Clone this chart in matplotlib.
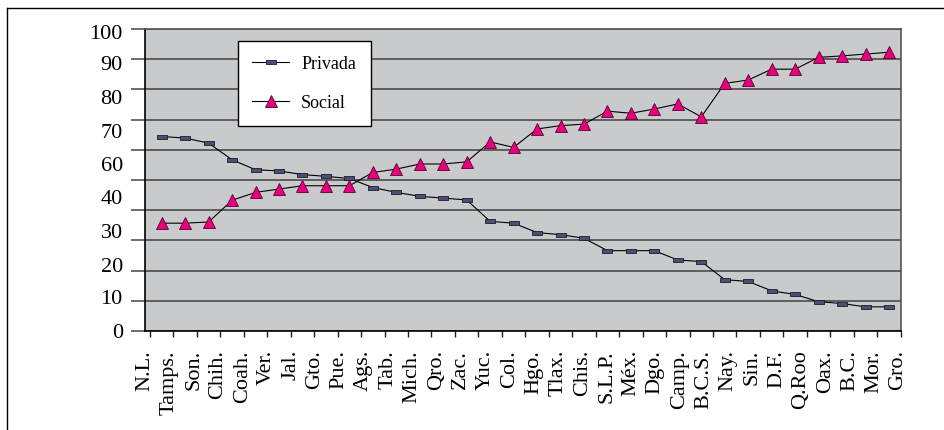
import numpy as np
import matplotlib
matplotlib.use("Agg")
import matplotlib.pyplot as plt
from matplotlib.path import Path
from matplotlib.lines import Line2D

plt.rcParams['font.family'] = ['Liberation Serif', 'DejaVu Serif']

estados = ["N.L.", "Tamps.", "Son.", "Chih.", "Coah.", "Ver.", "Jal.", "Gto.", "Pue.", "Ags.",
           "Tab.", "Mich.", "Qro.", "Zac.", "Yuc.", "Col.", "Hgo.", "Tlax.", "Chis.", "S.L.P.",
           "Méx.", "Dgo.", "Camp.", "B.C.S.", "Nay.", "Sin.", "D.F.", "Q.Roo", "Oax.", "B.C.",
           "Mor.", "Gro."]
privada = [64.4, 63.9, 62.2, 56.7, 53.4, 53.0, 51.8, 51.2, 50.5, 47.5,
           45.9, 44.6, 44.0, 43.4, 36.3, 35.7, 32.6, 31.9, 30.7, 26.6,
           26.6, 26.6, 23.5, 23.0, 17.0, 16.4, 13.3, 12.1, 9.7, 9.1,
           8.0, 8.0]
social = [35.7, 35.7, 36.1, 43.3, 45.9, 47.0, 48.1, 48.1, 48.1, 52.5,
          53.6, 55.3, 55.3, 56.0, 62.6, 60.8, 66.9, 68.0, 68.5, 72.8,
          72.1, 73.5, 75.2, 70.9, 82.0, 83.1, 86.7, 86.7, 90.6, 91.1,
          91.7, 92.3]
y_labels = ["100", "90", "80", "70", "60", "40", "30", "20", "10", "0"]

# the printed labels do not sit on the grid lines, keep their drawn places
y_label_pos = [99.5, 89.1, 77.8, 66.6, 55.6, 44.8, 33.5, 22.1, 11.6, 0.3]

x = np.arange(len(estados))
x_label_pos = -0.712 + 1.0354 * x

fig = plt.figure(figsize=(9.44, 4.31), dpi=100)
ax = fig.add_axes([145 / 944, 1 - 332 / 431, 755.7 / 944, 302 / 431])
ax.set_facecolor("#c9cacc")

rect = Path([(-1, -0.45), (1, -0.45), (1, 0.45), (-1, 0.45), (-1, -0.45)],
            [Path.MOVETO, Path.LINETO, Path.LINETO, Path.LINETO, Path.CLOSEPOLY])

ax.plot(x, privada, color="black", lw=0.8, marker=rect, ms=7.5,
        mfc="#4e4e70", mec="#1c1c30", mew=0.6, label="Privada", zorder=3)
ax.plot(x, social, color="black", lw=0.8, marker="^", ms=8,
        mfc="#e6007e", mec="#5a0030", mew=0.6, label="Social", zorder=3)

ax.set_xlim(-0.5, len(estados) - 0.5)
ax.set_ylim(0, 100)

ax.set_yticks(np.arange(0, 101, 10))
ax.set_yticklabels([])
ax.set_yticks(y_label_pos, y_labels, minor=True)
ax.yaxis.remove_overlapping_locs = False
ax.tick_params(axis="y", which="major", length=10, width=1.2, color="#555555")
ax.tick_params(axis="y", which="minor", length=0, pad=16, labelsize=16)
ax.yaxis.grid(True, which="major", color="#555555", lw=1.3)
ax.set_axisbelow(True)

ax.set_xticks(np.arange(-0.5, len(estados)))
ax.set_xticklabels([])
ax.set_xticks(x_label_pos, estados, minor=True)
ax.xaxis.remove_overlapping_locs = False
ax.tick_params(axis="x", which="major", length=4, width=1, color="#222222")
ax.tick_params(axis="x", which="minor", length=0, pad=13, labelsize=16, labelrotation=90)

for s in ["top", "right"]:
    ax.spines[s].set_color("#555555")
    ax.spines[s].set_linewidth(1.2)
for s in ["left", "bottom"]:
    ax.spines[s].set_color("black")
    ax.spines[s].set_linewidth(1.2)

leg = ax.legend(loc="upper left", bbox_to_anchor=((238 - 145) / 755.7, 1 - (42 - 30) / 302),
                fontsize=13, frameon=True, fancybox=False, edgecolor="black",
                framealpha=1, borderpad=0.8, labelspacing=1.2, handlelength=2,
                handletextpad=0.7, borderaxespad=0)
leg.get_frame().set_linewidth(1.0)

# outer frame, only left and top edges show
fig.add_artist(Line2D([7 / 944, 7 / 944], [0, 1 - 9 / 431], transform=fig.transFigure,
                      color="black", lw=1))
fig.add_artist(Line2D([7 / 944, 1], [1 - 9 / 431, 1 - 9 / 431], transform=fig.transFigure,
                      color="black", lw=1))

fig.savefig("out.png", dpi=100)
